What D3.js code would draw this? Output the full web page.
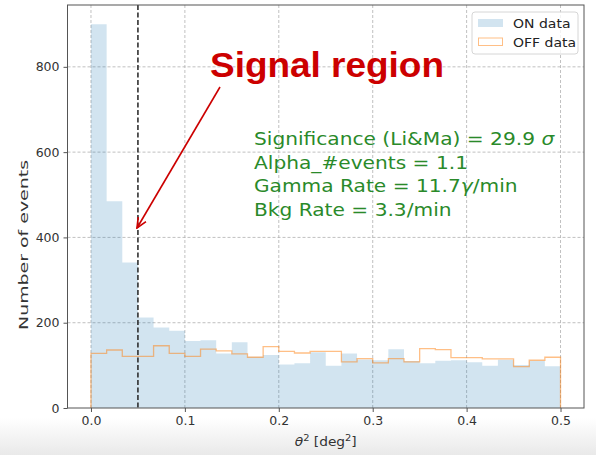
<!DOCTYPE html>
<html>
<head>
<meta charset="utf-8">
<script src="https://cdn.jsdelivr.net/npm/d3@7"></script>
<style>
  body { margin: 0; background: #fff; }
  svg { display: block; font-family: "DejaVu Sans", sans-serif; }
</style>
</head>
<body>
<div id="chart"></div>
<script>
// theta^2 histogram, 30 bins between 0 and 0.5 deg^2
var onCounts = [900, 485, 341, 212, 189, 181, 157, 159, 128, 154,
                120, 124, 102, 105, 131, 99, 128, 114, 112, 138,
                110, 105, 111, 112, 107, 99, 113, 101, 111, 98];
var offCounts = [128, 136, 121, 121, 146, 128, 121, 138, 134, 127,
                 119, 144, 133, 129, 133, 133, 108, 116, 106, 116,
                 108, 139, 137, 118, 118, 115, 115, 97, 112, 119];
var thetaMax = 0.5;
var signalCut = 0.05;
var xTicks = [0, 0.1, 0.2, 0.3, 0.4, 0.5];
var yTicks = [0, 200, 400, 600, 800];
var legendLabels = ["ON data", "OFF data"];
var statLines = ["Significance (Li&Ma) = 29.9 ", "Alpha_#events = 1.1", "Gamma Rate = 11.7", "Bkg Rate = 3.3/min"];

(function() {
    var width = 596, height = 455;

    var svg = d3.select("#chart")
        .append("svg")
        .attr("width", width)
        .attr("height", height)

    // text in the screenshot is a bit wider than normal, stretch it
    var stretch = function(sel, px, py, sx) {
        sel.attr("x", 0).attr("y", 0)
           .attr("transform", "translate(" + px + "," + py + ") scale(" + sx + ",1)")
    }

    // faint grey fade at the bottom of the screenshot
    var defs = svg.append("defs")
    var grad = defs.append("linearGradient")
        .attr("id", "fade")
        .attr("x1", 0).attr("y1", 0).attr("x2", 0).attr("y2", 1)
    grad.append("stop").attr("offset", "0%").attr("stop-color", "#ffffff")
    grad.append("stop").attr("offset", "100%").attr("stop-color", "#e9e9e9")
    svg.append("rect")
        .attr("x", 0).attr("y", 418)
        .attr("width", width).attr("height", height - 418)
        .attr("fill", "url(#fade)")

    var x = d3.scaleLinear().domain([-0.025, 0.525]).range([67.5, 584])
    var y = d3.scaleLinear().domain([0, 945]).range([408, 5])

    var nBins = onCounts.length
    var edges = d3.range(nBins + 1).map(function(i) { return i * thetaMax / nBins })

    // grid
    var grid = svg.append("g")
    grid.selectAll(".vgrid")
        .data(xTicks)
        .enter()
        .append("line")
        .attr("x1", function(d) { return x(d) })
        .attr("x2", function(d) { return x(d) })
        .attr("y1", y.range()[1])
        .attr("y2", y.range()[0])
    grid.selectAll(".hgrid")
        .data(yTicks.slice(1))
        .enter()
        .append("line")
        .attr("x1", x.range()[0])
        .attr("x2", x.range()[1])
        .attr("y1", function(d) { return y(d) })
        .attr("y2", function(d) { return y(d) })
    grid.selectAll("line")
        .attr("stroke", "#b0b0b0")
        .attr("stroke-width", 0.8)
        .attr("stroke-dasharray", "3,2")

    // ON histogram (filled)
    var onPath = "M" + x(0) + "," + y(0)
    onCounts.forEach(function(v, i) {
        onPath += "V" + y(v) + "H" + x(edges[i + 1])
    })
    onPath += "V" + y(0) + "Z"
    svg.append("path")
        .attr("d", onPath)
        .attr("fill", "#1f77b4")
        .attr("fill-opacity", 0.2)

    // OFF histogram (step)
    var offPath = "M" + x(0) + "," + y(0)
    offCounts.forEach(function(v, i) {
        offPath += "V" + y(v) + "H" + x(edges[i + 1])
    })
    offPath += "V" + y(0)
    svg.append("path")
        .attr("d", offPath)
        .attr("fill", "none")
        .attr("stroke", "#ff7f0e")
        .attr("stroke-opacity", 0.5)
        .attr("stroke-width", 1.3)

    // signal cut
    svg.append("line")
        .attr("x1", x(signalCut)).attr("x2", x(signalCut))
        .attr("y1", y.range()[1]).attr("y2", y.range()[0])
        .attr("stroke", "#222")
        .attr("stroke-width", 1.5)
        .attr("stroke-dasharray", "5,2.5")

    // axes frame
    svg.append("rect")
        .attr("x", x.range()[0]).attr("y", y.range()[1])
        .attr("width", x.range()[1] - x.range()[0])
        .attr("height", y.range()[0] - y.range()[1])
        .attr("fill", "none")
        .attr("stroke", "#555")
        .attr("stroke-width", 1)

    var xAxis = svg.append("g")
        .attr("transform", "translate(0," + y.range()[0] + ")")
        .call(d3.axisBottom(x).tickValues(xTicks).tickFormat(d3.format(".1f")).tickSize(4).tickPadding(4))
    var yAxis = svg.append("g")
        .attr("transform", "translate(" + x.range()[0] + ",0)")
        .call(d3.axisLeft(y).tickValues(yTicks).tickSize(4).tickPadding(4))
    ;[xAxis, yAxis].forEach(function(a) {
        a.select(".domain").remove()
        a.selectAll("line").attr("stroke", "#555")
        a.selectAll("text")
            .attr("fill", "#333")
            .style("font-size", "12.5px")
            .style("font-family", "DejaVu Sans")
    })

    // axis labels
    var xl = svg.append("text")
        .attr("text-anchor", "middle")
        .attr("fill", "#333")
        .style("font-size", "12.5px")
    stretch(xl, (x(0) + x(0.5)) / 2, 446, 1.1)
    xl.append("tspan").text("θ").style("font-style", "italic")
    xl.append("tspan").text("2").attr("dy", -5).style("font-size", "9px")
    xl.append("tspan").text(" [deg").attr("dy", 5)
    xl.append("tspan").text("2").attr("dy", -5).style("font-size", "9px")
    xl.append("tspan").text("]").attr("dy", 5)

    svg.append("text")
        .attr("transform", "translate(28,245) rotate(-90)")
        .attr("text-anchor", "middle")
        .attr("fill", "#333")
        .style("font-size", "13px")
        .attr("textLength", 170)
        .attr("lengthAdjust", "spacingAndGlyphs")
        .text("Number of events")

    // legend
    var lg = svg.append("g")
    lg.append("rect")
        .attr("x", 472).attr("y", 12)
        .attr("width", 106).attr("height", 42)
        .attr("rx", 3)
        .attr("fill", "#fff").attr("fill-opacity", 0.8)
        .attr("stroke", "#d6d6d6")
    lg.append("rect")
        .attr("x", 478).attr("y", 19).attr("width", 25).attr("height", 8)
        .attr("fill", "#1f77b4").attr("fill-opacity", 0.2)
    lg.append("rect")
        .attr("x", 478.5).attr("y", 38).attr("width", 24).attr("height", 7.5)
        .attr("fill", "none").attr("stroke", "#ff7f0e").attr("stroke-opacity", 0.5)
    lg.selectAll(".lbl")
        .data(legendLabels)
        .enter()
        .append("text")
        .attr("fill", "#222")
        .style("font-size", "12.5px")
        .text(function(d) { return d })
        .each(function(d, i) { stretch(d3.select(this), 513, 28 + i * 18.5, 1.12) })

    // stats text
    var st = svg.selectAll(".stat")
        .data(statLines)
        .enter()
        .append("text")
        .attr("fill", "#2a8a2a")
        .style("font-size", "18px")
        .text(function(d) { return d })
        .each(function(d, i) { stretch(d3.select(this), 254, 145 + i * 23.6, 1.12) })
    d3.select(st.nodes()[0]).append("tspan").text("σ").style("font-style", "italic")
    d3.select(st.nodes()[2]).append("tspan").text("γ").style("font-style", "italic")
    d3.select(st.nodes()[2]).append("tspan").text("/min")

    // annotation
    defs.append("marker")
        .attr("id", "head")
        .attr("viewBox", "0 0 10 10")
        .attr("refX", 9).attr("refY", 5)
        .attr("markerWidth", 7).attr("markerHeight", 7)
        .attr("orient", "auto")
        .append("path")
        .attr("d", "M0,1 L9,5 L0,9")
        .attr("fill", "none")
        .attr("stroke", "#cc0000")
        .attr("stroke-width", 1.5)
    svg.append("line")
        .attr("x1", 220).attr("y1", 87)
        .attr("x2", 137).attr("y2", 228)
        .attr("stroke", "#cc0000")
        .attr("stroke-width", 1.6)
        .attr("marker-end", "url(#head)")
    svg.append("text")
        .attr("x", 210)
        .attr("y", 77)
        .attr("fill", "#cc0000")
        .style("font-family", "Liberation Sans, Arial, sans-serif")
        .style("font-weight", "bold")
        .style("font-size", "35px")
        .attr("textLength", 234)
        .attr("lengthAdjust", "spacingAndGlyphs")
        .text("Signal region")
})();
</script>
</body>
</html>
